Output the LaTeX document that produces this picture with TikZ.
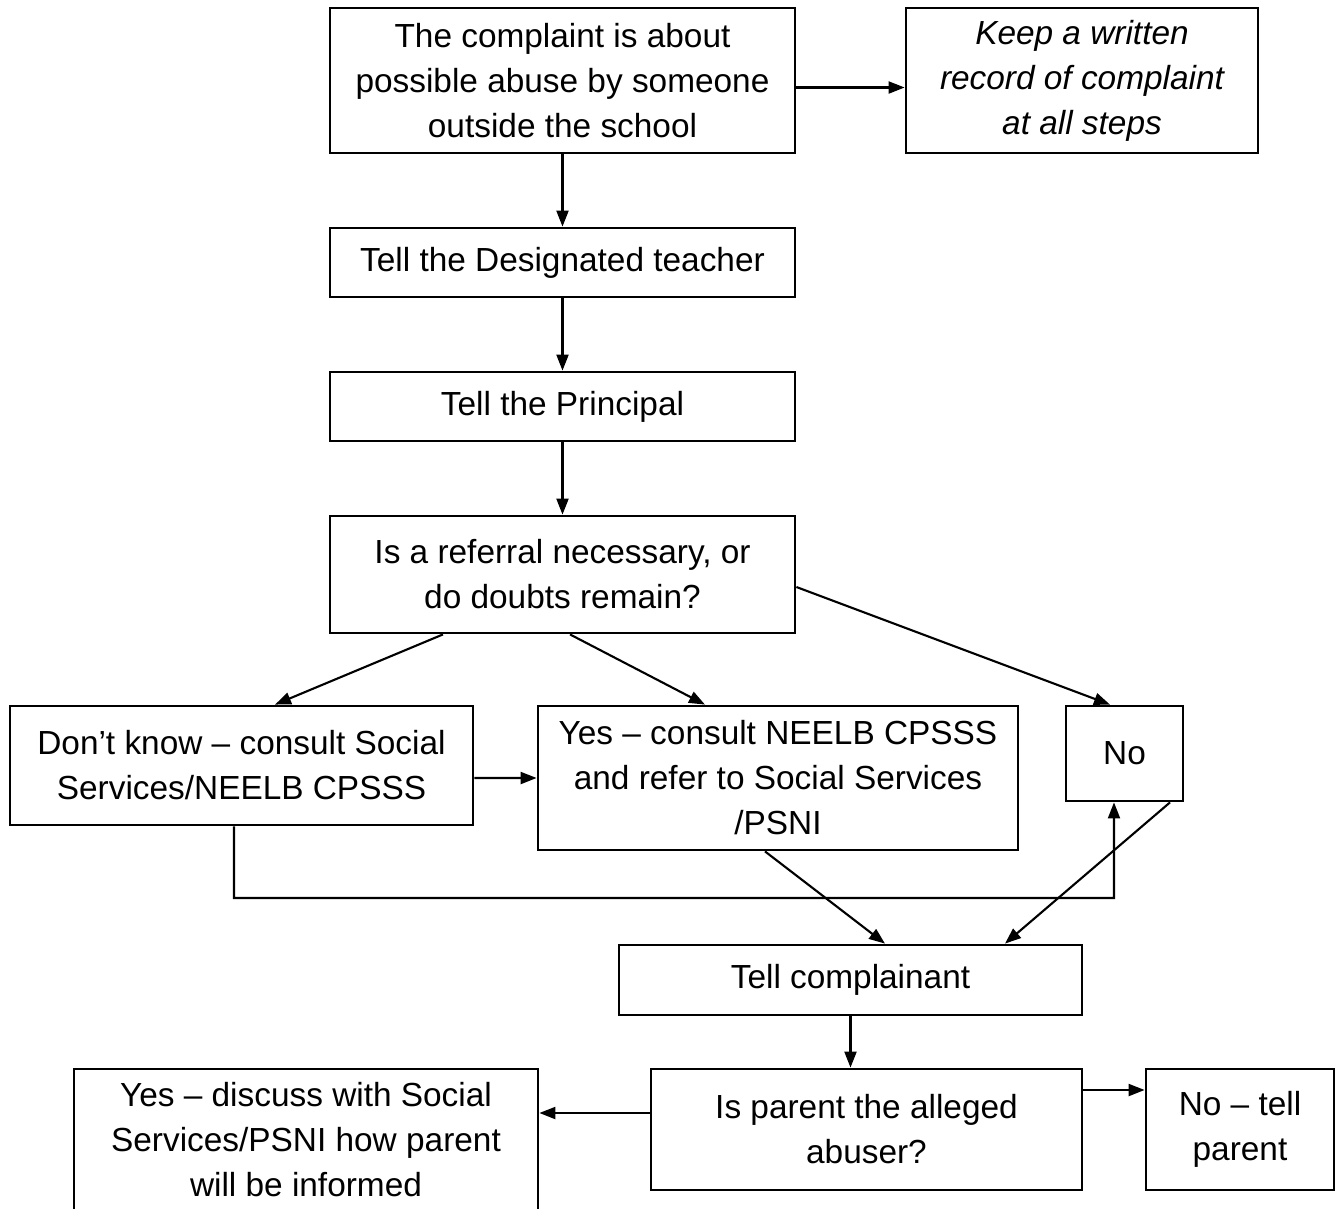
\documentclass[tikz,border=0pt]{standalone}
\usepackage{fontspec}
\setmainfont{Liberation Sans}
\usetikzlibrary{arrows.meta}
\begin{document}
\begin{tikzpicture}[
    box/.style={draw, line width=0.8pt, align=center, inner sep=0pt,
      font=\fontsize{9.5}{12.8}\selectfont},
    flow/.style={-{Triangle[length=1.6mm,width=1.2mm]}, line width=0.6pt}
  ]
  \useasboundingbox (0,0) rectangle (13.44,-12.09);
  \draw
    (5.625,-0.805) node[box, minimum width=4.65cm, minimum height=1.45cm] (complaint)
      {The complaint is about\\possible abuse by someone\\outside the school}
    (10.82,-0.805) node[box, minimum width=3.52cm, minimum height=1.45cm, font=\fontsize{9.5}{12.8}\selectfont\itshape] (record)
      {Keep a written\\record of complaint\\at all steps}
    (5.625,-2.625) node[box, minimum width=4.65cm, minimum height=0.69cm] (designated)
      {Tell the Designated teacher}
    (5.625,-4.065) node[box, minimum width=4.65cm, minimum height=0.69cm] (principal)
      {Tell the Principal}
    (5.625,-5.745) node[box, minimum width=4.65cm, minimum height=1.17cm] (referral)
      {Is a referral necessary, or\\do doubts remain?}
    (2.415,-7.655) node[box, minimum width=4.63cm, minimum height=1.19cm] (dontknow)
      {Don’t know – consult Social\\Services/NEELB CPSSS}
    (7.78,-7.78) node[box, minimum width=4.80cm, minimum height=1.44cm] (yes)
      {Yes – consult NEELB CPSSS\\and refer to Social Services\\/PSNI}
    (11.245,-7.535) node[box, minimum width=1.17cm, minimum height=0.95cm] (no)
      {No}
    (8.505,-9.80) node[box, minimum width=4.63cm, minimum height=0.70cm] (complainant)
      {Tell complainant}
    (8.665,-11.295) node[box, minimum width=4.31cm, minimum height=1.21cm] (parent)
      {Is parent the alleged\\abuser?}
    (3.06,-11.40) node[box, minimum width=4.64cm, minimum height=1.42cm] (discuss)
      {Yes – discuss with Social\\Services/PSNI how parent\\will be informed}
    (12.40,-11.295) node[box, minimum width=1.88cm, minimum height=1.21cm] (telltheparent)
      {No – tell\\parent};
  \coordinate (loop) at (11.14,-8.98);
  \begin{scope}[flow]
    \draw ([yshift=-0.7mm]complaint.east) to ([yshift=-0.7mm]record.west);
    \draw (complaint.south) to (designated.north);
    \draw (designated.south) to (principal.north);
    \draw (principal.south) to (referral.north);
    \draw ([xshift=-11.95mm]referral.south) to ([xshift=3.35mm]dontknow.north);
    \draw ([xshift=0.75mm]referral.south) to ([xshift=-7.3mm]yes.north);
    \draw ([yshift=-1.25mm]referral.east) to ([xshift=-1.45mm]no.north);
    \draw ([yshift=-1.25mm]dontknow.east) to (yes.west);
    \draw ([xshift=-0.75mm]dontknow.south) |- (loop) -- ([xshift=-1.05mm]no.south);
    \draw ([xshift=-1.3mm]yes.south) to ([xshift=3.45mm]complainant.north);
    \draw ([xshift=4.55mm]no.south) to ([xshift=15.45mm]complainant.north);
    \draw (complainant.south) to (complainant.south |- parent.north);
    \draw ([yshift=1.65mm]parent.west) to ([yshift=1.65mm]parent.west -| discuss.east);
    \draw ([yshift=3.95mm]parent.east) to ([yshift=3.95mm]parent.east -| telltheparent.west);
  \end{scope}
\end{tikzpicture}
\end{document}
